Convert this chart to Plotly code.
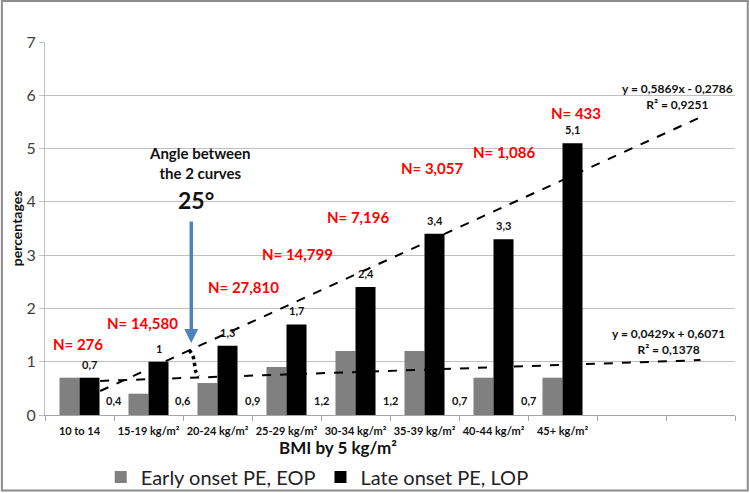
import plotly.graph_objects as go

# ---------------- data ----------------
categories = ["10 to 14", "15-19 kg/m²", "20-24 kg/m²", "25-29 kg/m²",
              "30-34 kg/m²", "35-39 kg/m²", "40-44 kg/m²", "45+ kg/m²"]
early_onset = [0.7, 0.4, 0.6, 0.9, 1.2, 1.2, 0.7, 0.7]
late_onset = [0.7, 1.0, 1.3, 1.7, 2.4, 3.4, 3.3, 5.1]
n_labels = ["N= 276", "N= 14,580", "N= 27,810", "N= 14,799",
            "N= 7,196", "N= 3,057", "N= 1,086", "N= 433"]
# trend line endpoints
trend_x = [0.3, 9.0]
late_trend = [0.45, 5.59]
early_trend = [0.64, 1.03]
late_eq = ["y = 0,5869x - 0,2786", "R² = 0,9251"]
early_eq = ["y = 0,0429x + 0,6071", "R² = 0,1378"]
y_ticks = [0, 1, 2, 3, 4, 5, 6, 7]
# angle marker (dotted arc) points
arc_x = [1.59, 1.645, 1.665, 1.685, 1.72]
arc_y = [1.22, 1.10, 0.97, 0.82, 0.72]

# ---------------- layout constants ----------------
n_pos = [(-0.02, 1.33), (0.92, 1.73), (2.37, 2.40), (3.16, 3.02),
         (4.04, 3.71), (5.12, 4.63), (6.16, 4.93), (7.19, 5.66)]
FONT = "Lato"
fmt = lambda v: f"{v:g}".replace(".", ",")
xs = list(range(len(categories)))

fig = go.Figure()
fig.add_trace(go.Bar(x=xs, y=early_onset, name="Early onset PE, EOP",
                     marker=dict(color="#808080", line=dict(width=0))))
fig.add_trace(go.Bar(x=xs, y=late_onset, name="Late onset PE, LOP",
                     marker=dict(color="#000000", line=dict(width=0))))

dash_line = dict(color="black", width=2, dash="dash")
fig.add_trace(go.Scatter(x=trend_x, y=late_trend, mode="lines", line=dash_line,
                         showlegend=False, hoverinfo="skip"))
fig.add_trace(go.Scatter(x=trend_x, y=early_trend, mode="lines", line=dash_line,
                         showlegend=False, hoverinfo="skip"))
fig.add_trace(go.Scatter(x=arc_x, y=arc_y, mode="lines",
                         line=dict(color="black", width=3.5, dash="dot", shape="spline"),
                         showlegend=False, hoverinfo="skip"))

ann = []
# late onset value labels
for i, v in enumerate(late_onset):
    ann.append(dict(x=i + 0.145, y=v, text=fmt(v), showarrow=False, yanchor="bottom",
                    yshift=5, font=dict(family=FONT, size=11, color="#111", weight="bold")))
# early onset value labels (placed at category boundaries near the bottom)
for i, v in enumerate(early_onset):
    ann.append(dict(x=(i - 0.5) if i > 0 else -0.6, y=0.28, text=fmt(v), showarrow=False,
                    font=dict(family=FONT, size=11, color="#111", weight="bold")))
# N labels
for t, (px, py) in zip(n_labels, n_pos):
    ann.append(dict(x=px, y=py, text=t, showarrow=False,
                    font=dict(family=FONT, size=15, color="#ff0000", weight="bold")))
# equations
ann.append(dict(x=8.67, y=6.3, text="<br>".join(late_eq), showarrow=False, align="center",
                xanchor="center", yanchor="top",
                font=dict(family=FONT, size=12, color="#111", weight="bold")))
ann.append(dict(x=8.53, y=1.7, text="<br>".join(early_eq), showarrow=False, align="center",
                xanchor="center", yanchor="top",
                font=dict(family=FONT, size=12, color="#111", weight="bold")))
# angle text
ann.append(dict(x=1.75, y=5.13, text="Angle between<br>the 2 curves", showarrow=False,
                align="center", xanchor="center", yanchor="top",
                font=dict(family=FONT, size=15, color="#111", weight="bold")))
ann.append(dict(x=1.69, y=4.04, text="25°", showarrow=False, xanchor="center",
                font=dict(family=FONT, size=23, color="#111", weight="bold")))
# blue arrow
ann.append(dict(x=1.62, y=1.35, ax=1.62, ay=3.66, axref="x", ayref="y", xref="x", yref="y",
                text="", showarrow=True, arrowhead=2, arrowsize=0.8, arrowwidth=3.5,
                arrowcolor="#4f81bd"))
# axis titles
ann.append(dict(xref="paper", yref="paper", x=-0.041, y=0.5, text="percentages",
                textangle=-90, showarrow=False, xanchor="center", yanchor="middle",
                font=dict(family=FONT, size=14, color="#111", weight="bold")))
ann.append(dict(xref="paper", yref="paper", x=0.425, y=-0.086, text="BMI by 5 kg/m²",
                showarrow=False, xanchor="center", yanchor="middle",
                font=dict(family=FONT, size=17, color="#111", weight="bold")))

fig.update_layout(
    width=750, height=493, autosize=False,
    margin=dict(l=45, r=15, t=42, b=78, autoexpand=False),
    paper_bgcolor="white", plot_bgcolor="white",
    barmode="group", bargap=0.42, bargroupgap=0,
    annotations=ann,
    showlegend=True,
    legend=dict(orientation="h", xref="container", yref="container",
                x=0.423, xanchor="center", y=0.0325, yanchor="middle",
                font=dict(family=FONT, size=20, color="#222"), itemwidth=30,
                bgcolor="rgba(0,0,0,0)"),
    xaxis=dict(range=[-0.5, 9.5], tickvals=xs, ticktext=categories, ticks="",
               automargin=False, ticklabelstandoff=6,
               tickfont=dict(family=FONT, size=11, color="#111", weight="bold"),
               showgrid=False, zeroline=False, showline=True, linecolor="#a6a6a6",
               linewidth=1,
               minor=dict(tickvals=[k - 0.5 for k in range(11)], ticks="outside",
                          ticklen=5, tickcolor="#a6a6a6", showgrid=False)),
    yaxis=dict(range=[0, 7], tickvals=y_ticks, ticks="outside", ticklen=5,
               automargin=False,
               tickcolor="#bfbfbf", showgrid=True, gridcolor="#bfbfbf", gridwidth=1,
               zeroline=False, showline=True, linecolor="#bfbfbf",
               tickfont=dict(family=FONT, size=16, color="#404040")),
    shapes=[dict(type="rect", xref="paper", yref="paper", x0=-0.0625, x1=1.0185,
                 y0=-0.2025, y1=1.11, line=dict(color="#8c8c8c", width=2))],
)

fig.write_html("out.html", config={"displayModeBar": False},
               post_script="document.body.style.margin='0';document.body.style.overflow='hidden';")
